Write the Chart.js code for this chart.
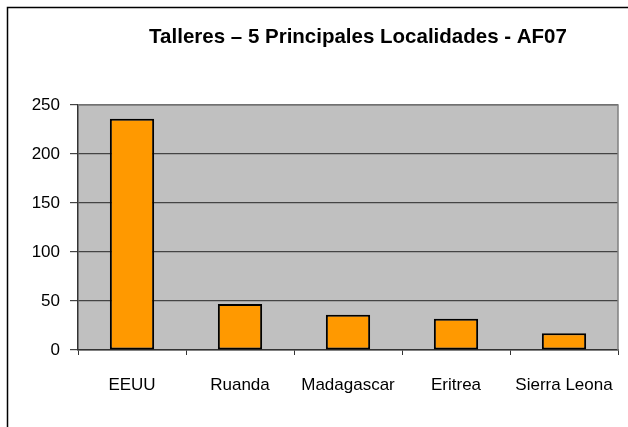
<!DOCTYPE html>
<html>
<head>
<meta charset="utf-8">
<script src="https://cdn.jsdelivr.net/npm/chart.js@4"></script>
<style>
  html, body { margin: 0; padding: 0; background: #fff; }
  #wrap { width: 628px; height: 427px; }
</style>
</head>
<body>
<div id="wrap"><canvas id="chart" width="628" height="427"></canvas></div>
<script>
const titleText = 'Talleres \u2013 5 Principales Localidades - AF07';
const categories = ['EEUU', 'Ruanda', 'Madagascar', 'Eritrea', 'Sierra Leona'];
const talleres = [236, 47, 36, 32, 17];
const yTicks = [0, 50, 100, 150, 200, 250];

const fontFamily = '"Liberation Sans", Arial, sans-serif';

// frame, grey plot background and title
const decorPlugin = {
  id: 'decor',
  beforeDraw(chart) {
    const ctx = chart.ctx;
    const a = chart.chartArea;
    ctx.save();
    ctx.fillStyle = '#fff';
    ctx.fillRect(0, 0, chart.width, chart.height);
    ctx.strokeStyle = '#000';
    ctx.lineWidth = 1.5;
    ctx.beginPath();
    ctx.moveTo(7.5, chart.height);
    ctx.lineTo(7.5, 7.5);
    ctx.lineTo(chart.width, 7.5);
    ctx.stroke();
    ctx.fillStyle = '#c0c0c0';
    ctx.fillRect(a.left, a.top, a.right - a.left, a.bottom - a.top);
    ctx.fillStyle = '#000';
    ctx.font = 'bold 20.5px ' + fontFamily;
    ctx.textAlign = 'center';
    ctx.textBaseline = 'middle';
    ctx.fillText(titleText, 358, 37);
    ctx.restore();
  },
  afterDatasetsDraw(chart) {
    const ctx = chart.ctx;
    const a = chart.chartArea;
    ctx.save();
    ctx.strokeStyle = '#808080';
    ctx.lineWidth = 1.5;
    ctx.beginPath();
    ctx.moveTo(a.left, a.top);
    ctx.lineTo(a.right, a.top);
    ctx.lineTo(a.right, a.bottom);
    ctx.stroke();
    ctx.restore();
  }
};

new Chart(document.getElementById('chart'), {
  type: 'bar',
  data: {
    labels: categories,
    datasets: [{
      label: 'Talleres',
      data: talleres,
      backgroundColor: '#ff9900',
      borderColor: '#000',
      borderWidth: 2,
      borderSkipped: false,
      barPercentage: 0.41,
      categoryPercentage: 1
    }]
  },
  options: {
    responsive: false,
    animation: false,
    layout: { padding: { top: 105, right: 10, left: 0, bottom: 0 } },
    plugins: {
      legend: { display: false },
      title: { display: false },
      tooltip: { enabled: false }
    },
    scales: {
      x: {
        offset: true,
        grid: {
          offset: true,
          drawOnChartArea: false,
          color: '#333',
          tickLength: 5
        },
        border: { color: '#333', width: 1.5 },
        ticks: {
          color: '#000',
          padding: 20,
          font: { family: fontFamily, size: 17 }
        },
        afterFit(scale) {
          scale.height = 77;
          scale.paddingLeft = 0;
          scale.paddingRight = 0;
        }
      },
      y: {
        min: 0,
        max: 250,
        afterBuildTicks(scale) { scale.ticks = yTicks.map(v => ({ value: v })); },
        grid: { color: '#444', lineWidth: 1.2, tickLength: 8 },
        border: { color: '#333', width: 1.5 },
        ticks: {
          color: '#000',
          padding: 10,
          font: { family: fontFamily, size: 17 }
        },
        afterFit(scale) { scale.width = 78; }
      }
    }
  },
  plugins: [decorPlugin]
});
</script>
</body>
</html>
